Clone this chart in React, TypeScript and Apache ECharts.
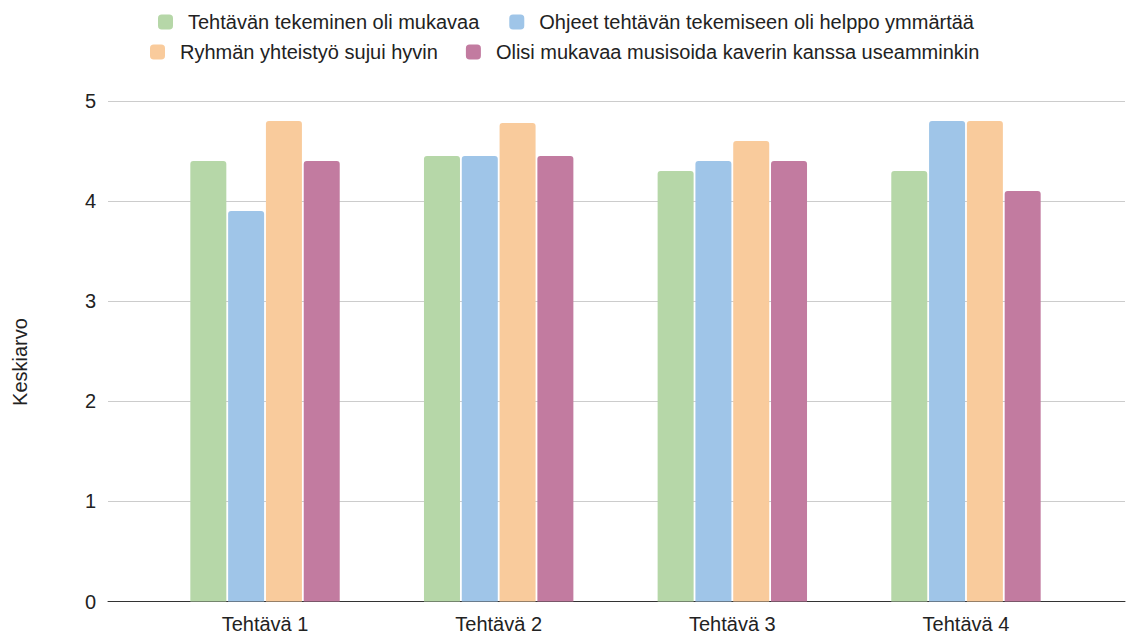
import React, { useEffect, useRef } from "react";
import * as echarts from "echarts";

const categories = ["Tehtävä 1", "Tehtävä 2", "Tehtävä 3", "Tehtävä 4"];
const seriesNames = [
  "Tehtävän tekeminen oli mukavaa",
  "Ohjeet tehtävän tekemiseen oli helppo ymmärtää",
  "Ryhmän yhteistyö sujui hyvin",
  "Olisi mukavaa musisoida kaverin kanssa useamminkin",
];
const mukavaa = [4.4, 4.45, 4.3, 4.3];
const ohjeet = [3.9, 4.45, 4.4, 4.8];
const yhteistyo = [4.8, 4.78, 4.6, 4.8];
const musisoida = [4.4, 4.45, 4.4, 4.1];
const colors = ["#b6d7a8", "#9fc5e8", "#f9cb9c", "#c27ba0"];
const yMin = 0;
const yMax = 5;
const yInterval = 1;
const yTitle = "Keskiarvo";

const FONT = "'Liberation Sans', Arial, sans-serif";

export default function App() {
  const ref = useRef<HTMLDivElement>(null);
  useEffect(() => {
    if (!ref.current) return;
    const chart = echarts.init(ref.current, null, { renderer: "svg" });
    const values = [mukavaa, ohjeet, yhteistyo, musisoida];
    const legendText = {
      fontSize: 20,
      color: "#222",
      fontFamily: FONT,
      lineHeight: 20,
      padding: [0, 0, 0, 10],
    };
    chart.setOption({
      animation: false,
      textStyle: { fontFamily: FONT },
      legend: [
        {
          data: [seriesNames[0], seriesNames[1]],
          left: 158,
          top: 12,
          orient: "horizontal",
          icon: "roundRect",
          itemWidth: 15,
          itemHeight: 15,
          itemGap: 30,
          padding: 0,
          textStyle: legendText,
        },
        {
          data: [seriesNames[2], seriesNames[3]],
          left: 150,
          top: 42,
          orient: "horizontal",
          icon: "roundRect",
          itemWidth: 15,
          itemHeight: 15,
          itemGap: 28,
          padding: 0,
          textStyle: legendText,
        },
      ],
      grid: [
        { left: 108, right: 4, top: 101, bottom: 32.5 },
        { left: 148.2, right: 46.2, top: 101, bottom: 32.5 },
      ],
      xAxis: [
        {
          gridIndex: 0,
          type: "value",
          min: 0,
          max: 1,
          axisLine: { show: true, onZero: true, lineStyle: { color: "#333", width: 1 } },
          axisTick: { show: false },
          axisLabel: { show: false },
          splitLine: { show: false },
        },
        {
          gridIndex: 1,
          type: "category",
          data: categories,
          axisLine: { show: false },
          axisTick: { show: false },
          axisLabel: { fontSize: 20, color: "#222", margin: 12, fontFamily: FONT },
        },
      ],
      yAxis: [
        {
          gridIndex: 0,
          type: "value",
          min: yMin,
          max: yMax,
          interval: yInterval,
          axisLine: { show: false },
          axisTick: { show: false },
          axisLabel: { fontSize: 20, color: "#222", margin: 12, fontFamily: FONT },
          splitLine: { show: true, lineStyle: { color: "#cccccc", width: 1 } },
        },
        {
          gridIndex: 1,
          type: "value",
          min: yMin,
          max: yMax,
          interval: yInterval,
          show: false,
          splitLine: { show: false },
        },
      ],
      series: values.map((v, i) => ({
        name: seriesNames[i],
        type: "bar",
        xAxisIndex: 1,
        yAxisIndex: 1,
        data: v,
        barWidth: 36,
        barGap: "5%",
        itemStyle: { color: colors[i], borderRadius: [3, 3, 0, 0] },
        emphasis: { disabled: true },
      })),
      graphic: [
        {
          type: "text",
          x: 20,
          y: 362,
          rotation: Math.PI / 2,
          style: {
            text: yTitle,
            fontSize: 20,
            fill: "#222",
            fontFamily: FONT,
            align: "center",
            verticalAlign: "middle",
          },
        },
      ],
    });
    return () => chart.dispose();
  }, []);
  return <div ref={ref} style={{ width: 1129, height: 634, position: "absolute", left: 0, top: 0 }} />;
}
